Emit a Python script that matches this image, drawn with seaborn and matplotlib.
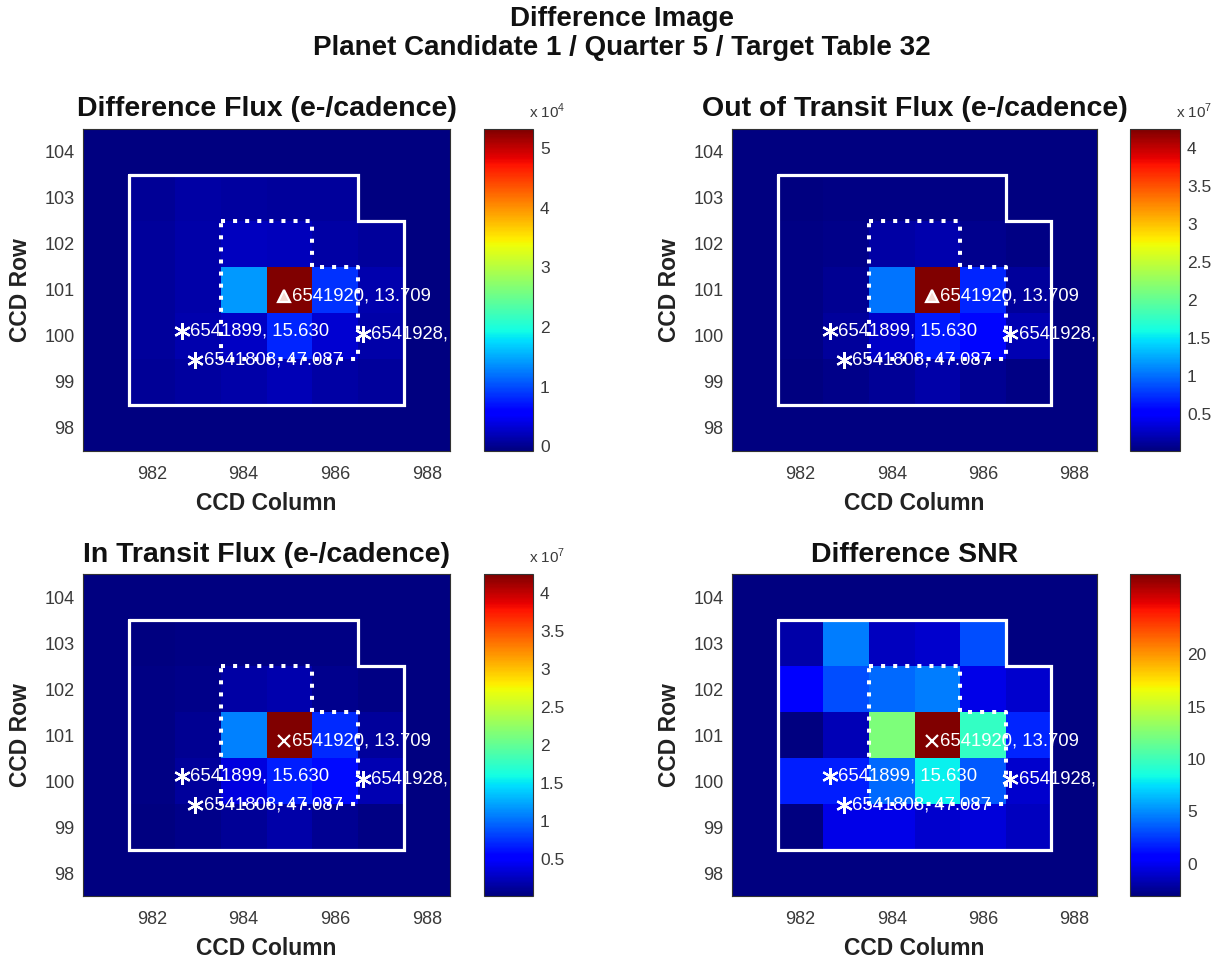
import numpy as np
import pandas as pd
import matplotlib
matplotlib.use("Agg")
import matplotlib.pyplot as plt
import matplotlib.transforms as mtransforms
from matplotlib.ticker import FuncFormatter
import seaborn as sns

sns.set_theme(style="white")
plt.rcParams["font.family"] = ["Liberation Sans", "DejaVu Sans"]
plt.rcParams["mathtext.fontset"] = "custom"
plt.rcParams["mathtext.rm"] = "Liberation Sans"

# ---------------------------------------------------------------- data
ccd_cols = [981, 982, 983, 984, 985, 986, 987, 988]
ccd_rows = [104, 103, 102, 101, 100, 99, 98]          # top to bottom

# Difference flux (e-/cadence)
diff_flux = np.array([
    [-800, -800, -800, -800, -800, -800, -800, -800],
    [-800,  400,  900,  700,  600,  500, -800, -800],
    [-800,  500, 1200, 2200, 2000,  900,  600, -800],
    [-800,  500, 1100, 14000, 53200, 8500, 1500, -800],
    [-800,  600, 1500, 2500, 8000, 3000, 1200, -800],
    [-800,  300,  700, 1200, 1800, 1000,  500, -800],
    [-800, -800, -800, -800, -800, -800, -800, -800],
])

# Out of transit flux (e-/cadence)
oot_flux = np.array([
    [1.0e5, 1.0e5, 1.0e5, 1.0e5, 1.0e5, 1.0e5, 1.0e5, 1.0e5],
    [1.0e5, 2.5e5, 3.0e5, 4.0e5, 4.0e5, 3.0e5, 1.0e5, 1.0e5],
    [1.0e5, 3.0e5, 5.0e5, 1.5e6, 1.9e6, 6.0e5, 3.0e5, 1.0e5],
    [1.0e5, 3.0e5, 8.0e5, 1.03e7, 4.25e7, 6.9e6, 1.2e6, 1.0e5],
    [1.0e5, 4.0e5, 1.2e6, 2.9e6, 6.5e6, 5.6e6, 2.0e6, 1.0e5],
    [1.0e5, 2.0e5, 5.0e5, 1.0e6, 1.6e6, 9.0e5, 4.0e5, 1.0e5],
    [1.0e5, 1.0e5, 1.0e5, 1.0e5, 1.0e5, 1.0e5, 1.0e5, 1.0e5],
])

# In transit flux (e-/cadence)
it_flux = np.array([
    [1.0e5, 1.0e5, 1.0e5, 1.0e5, 1.0e5, 1.0e5, 1.0e5, 1.0e5],
    [1.0e5, 2.5e5, 3.0e5, 4.0e5, 4.0e5, 3.0e5, 1.0e5, 1.0e5],
    [1.0e5, 3.0e5, 5.0e5, 1.5e6, 1.9e6, 6.0e5, 3.0e5, 1.0e5],
    [1.0e5, 3.0e5, 8.0e5, 1.08e7, 4.245e7, 7.2e6, 1.2e6, 1.0e5],
    [1.0e5, 4.0e5, 1.2e6, 3.6e6, 6.6e6, 5.8e6, 2.0e6, 1.0e5],
    [1.0e5, 2.0e5, 5.0e5, 1.0e6, 1.6e6, 9.0e5, 4.0e5, 1.0e5],
    [1.0e5, 1.0e5, 1.0e5, 1.0e5, 1.0e5, 1.0e5, 1.0e5, 1.0e5],
])

# Difference image signal-to-noise ratio
diff_snr = np.array([
    [-3.1, -3.1, -3.1, -3.1, -3.1, -3.1, -3.1, -3.1],
    [-3.1, -2.0,  4.6, -1.4, -1.0,  3.1, -3.1, -3.1],
    [-3.1,  0.3,  3.1,  3.9,  4.6, -0.3, -1.0, -3.1],
    [-3.1, -3.0, -1.6, 12.3, 27.7,  9.6,  1.9, -3.1],
    [-3.1,  1.6,  1.6,  3.9,  8.0,  3.4, -1.0, -3.1],
    [-3.1, -3.0, -0.3, -0.3, -1.0, -0.6, -1.4, -3.1],
    [-3.1, -3.1, -3.1, -3.1, -3.1, -3.1, -3.1, -3.1],
])

# Target mask and optimal aperture (1 = pixel included)
target_mask = np.array([
    [0, 0, 0, 0, 0, 0, 0, 0],
    [0, 1, 1, 1, 1, 1, 0, 0],
    [0, 1, 1, 1, 1, 1, 1, 0],
    [0, 1, 1, 1, 1, 1, 1, 0],
    [0, 1, 1, 1, 1, 1, 1, 0],
    [0, 1, 1, 1, 1, 1, 1, 0],
    [0, 0, 0, 0, 0, 0, 0, 0],
], dtype=bool)
optimal_aperture = np.array([
    [0, 0, 0, 0, 0, 0, 0, 0],
    [0, 0, 0, 0, 0, 0, 0, 0],
    [0, 0, 0, 1, 1, 0, 0, 0],
    [0, 0, 0, 1, 1, 1, 0, 0],
    [0, 0, 0, 1, 1, 1, 0, 0],
    [0, 0, 0, 0, 0, 0, 0, 0],
    [0, 0, 0, 0, 0, 0, 0, 0],
], dtype=bool)

# KIC objects near the target: id, Kepler magnitude, CCD column, CCD row
kic_ids = ["6541920", "6541899", "6541928", "6541808"]
kic_mags = [13.709, 15.630, 16.274, 47.087]
kic_cols = [984.88, 982.65, 986.60, 982.95]
kic_rows = [100.88, 100.10, 100.05, 99.47]

panel_titles = ["Difference Flux (e-/cadence)", "Out of Transit Flux (e-/cadence)",
                "In Transit Flux (e-/cadence)", "Difference SNR"]
panel_data = [diff_flux, oot_flux, it_flux, diff_snr]
cbar_scales = [1e4, 1e7, 1e7, 1]
cbar_exponents = [4, 7, 7, None]
cbar_ticks = [[0, 1, 2, 3, 4, 5],
              [0.5, 1, 1.5, 2, 2.5, 3, 3.5, 4],
              [0.5, 1, 1.5, 2, 2.5, 3, 3.5, 4],
              [0, 5, 10, 15, 20]]
target_markers = ["^", "^", "x", "x"]
x_tick_cols = [982, 984, 986, 988]

# ---------------------------------------------------------------- helpers
W, H = 1231, 959


def px_rect(x0, y0, x1, y1):
    return [x0 / W, 1 - y1 / H, (x1 - x0) / W, (y1 - y0) / H]


def to_cell_x(col):
    return col - ccd_cols[0] + 0.5


def to_cell_y(row):
    return ccd_rows[0] - row + 0.5


def outline(mask):
    """Closed outline (heatmap coordinates) of a set of pixels."""
    edges = []
    nr, nc = mask.shape
    for i in range(nr):
        for j in range(nc):
            if not mask[i, j]:
                continue
            if i == 0 or not mask[i - 1, j]:
                edges.append(((j, i), (j + 1, i)))
            if i == nr - 1 or not mask[i + 1, j]:
                edges.append(((j, i + 1), (j + 1, i + 1)))
            if j == 0 or not mask[i, j - 1]:
                edges.append(((j, i), (j, i + 1)))
            if j == nc - 1 or not mask[i, j + 1]:
                edges.append(((j + 1, i), (j + 1, i + 1)))
    adj = {}
    for a, b in edges:
        adj.setdefault(a, []).append(b)
        adj.setdefault(b, []).append(a)
    start = edges[0][0]
    path, prev, cur = [start], None, start
    while True:
        nxt = [p for p in adj[cur] if p != prev][0]
        if nxt == start:
            path.append(start)
            break
        path.append(nxt)
        prev, cur = cur, nxt
    pts = np.array(path, dtype=float)
    keep = [0]
    for k in range(1, len(pts) - 1):
        d1 = pts[k] - pts[k - 1]
        d2 = pts[k + 1] - pts[k]
        if d1[0] * d2[1] - d1[1] * d2[0] != 0:
            keep.append(k)
    keep.append(len(pts) - 1)
    return pts[keep]


mask_line = outline(target_mask)
aperture_line = outline(optimal_aperture)

# ---------------------------------------------------------------- figure
fig = plt.figure(figsize=(W / 100, H / 100), dpi=100)
fig.patch.set_facecolor("white")

ax_boxes = [px_rect(83, 129, 450, 451), px_rect(732, 129, 1097, 451),
            px_rect(83, 574, 450, 896), px_rect(732, 574, 1097, 896)]
cb_boxes = [px_rect(484, 129, 533, 451), px_rect(1130, 129, 1180, 451),
            px_rect(484, 574, 533, 896), px_rect(1130, 574, 1180, 896)]

tick_color = "#3a3a3a"

for k in range(4):
    ax = fig.add_axes(ax_boxes[k])
    cax = fig.add_axes(cb_boxes[k])
    df = pd.DataFrame(panel_data[k], index=ccd_rows, columns=ccd_cols)
    scale = cbar_scales[k]
    sns.heatmap(df, ax=ax, cmap="jet", cbar_ax=cax,
                cbar_kws={"ticks": [t * scale for t in cbar_ticks[k]]},
                xticklabels=False, yticklabels=False, linewidths=0)

    # pixel outlines
    ax.plot(mask_line[:, 0], mask_line[:, 1], color="white", lw=2.3,
            solid_joinstyle="miter")
    ax.plot(aperture_line[:, 0], aperture_line[:, 1], color="white", lw=2.9,
            linestyle=(0, (1.0, 2.0)), dash_capstyle="butt")

    # KIC objects
    label_tf = mtransforms.offset_copy(ax.transData, fig=fig, x=6, y=0,
                                       units="points")
    for i, (kid, mag, c, r) in enumerate(zip(kic_ids, kic_mags, kic_cols, kic_rows)):
        x, y = to_cell_x(c), to_cell_y(r)
        if i == 0:
            ax.plot(x, y, marker=target_markers[k], color="white", ms=9,
                    mew=1.6, mfc="#f4d8d0" if target_markers[k] == "^" else "white",
                    linestyle="none")
        else:
            ax.plot(x, y, marker=(6, 2, 0), color="white", ms=12, mew=1.6,
                    linestyle="none")
        ax.text(x, y, f"{kid}, {mag:.3f}", transform=label_tf, color="white",
                fontsize=13.3, ha="left", va="center", clip_on=True)

    # axes styling
    ax.set_xticks([to_cell_x(c) for c in x_tick_cols])
    ax.set_xticklabels([str(c) for c in x_tick_cols])
    ax.set_yticks([to_cell_y(r) for r in ccd_rows])
    ax.set_yticklabels([str(r) for r in ccd_rows], rotation=0)
    ax.tick_params(axis="x", length=0, pad=11, labelsize=13, labelcolor=tick_color)
    ax.tick_params(axis="y", length=0, pad=6, labelsize=13, labelcolor=tick_color)
    for s in ax.spines.values():
        s.set_visible(True)
        s.set_color("#333333")
        s.set_linewidth(0.8)
    ax.set_xlabel("CCD Column", fontsize=16.5, fontweight="bold", labelpad=6,
                  color="#222222")
    ax.set_ylabel("CCD Row", fontsize=16.5, fontweight="bold", labelpad=9,
                  color="#222222")
    ax.set_title(panel_titles[k], fontsize=20.5, fontweight="bold", pad=9,
                 color="#111111")

    # colorbar styling
    cbar = ax.collections[0].colorbar
    cbar.outline.set_edgecolor("#333333")
    cbar.outline.set_linewidth(0.8)
    cbar.ax.yaxis.set_major_formatter(FuncFormatter(lambda v, p, s=scale: f"{v / s:g}"))
    cax.tick_params(direction="in", length=4, width=0.8, left=True, right=True,
                    colors="#333333", labelsize=12.5, labelcolor=tick_color, pad=5)
    if cbar_exponents[k] is not None:
        cax.text(0.92, 1.025, rf"x 10$^{{{cbar_exponents[k]}}}$",
                 transform=cax.transAxes, ha="left", va="bottom",
                 fontsize=11, color=tick_color)

fig.text(622 / W, 1 - 19 / H, "Difference Image", ha="center", va="center",
         fontsize=20, fontweight="bold", color="#111111")
fig.text(622 / W, 1 - 48 / H, "Planet Candidate 1 / Quarter 5 / Target Table 32",
         ha="center", va="center", fontsize=20, fontweight="bold", color="#111111")

fig.savefig("out.png", dpi=100, facecolor="white")
